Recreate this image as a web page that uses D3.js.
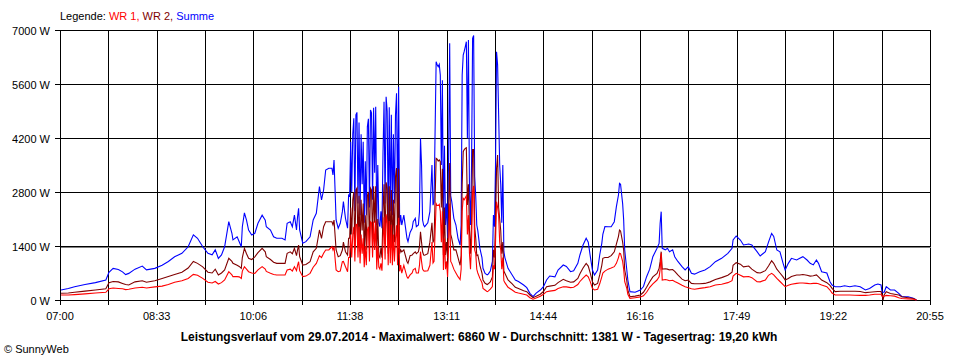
<!DOCTYPE html>
<html><head><meta charset="utf-8">
<script src="https://cdn.jsdelivr.net/npm/d3@7"></script>
<style>
body{margin:0;background:#fff;}
svg{display:block;}
text{font-family:"Liberation Sans",Arial,sans-serif;font-size:11px;fill:#000;}
</style>
</head><body>
<svg id="c" width="960" height="360"></svg>
<script>
// minutes after 07:00
const minutes = [
1,8,14,24,34,44,47,51,56,60,
63,66,72,79,83,91,98,104,110,117,
123,128,132,137,142,146,149,152,155,158,
162,165,166,170,172,174,175,177,179,181,
184,187,190,194,197,198,202,205,208,213,
216,218,221,223,225,227,228,229,230,233,
236,240,243,246,249,251,253,255,258,261,
262,263,265,267,269,271,272,274,276,277,
278,279,280,281,282,283,284,285,286,287,
288,289,290,291,292,293,294,295,296,297,
298,299,300,301,302,303,304,305,306,307,
308,309,310,311,312,313,314,315,316,317,
318,319,320,321,322,323,324,325,326,327,
328,330,333,334,336,338,339,341,342,344,
345,346,347,348,349,350,353,355,357,358,
359,361,362,363,364,365,366,367,368,369,
370,371,372,373,374,375,376,378,380,382,
384,385,386,387,388,389,390,391,392,393,
394,395,396,397,398,399,400,401,403,405,
406,408,410,411,413,415,416,417,418,419,
420,421,422,423,424,425,426,427,430,434,
437,440,445,448,451,454,457,461,464,467,
470,475,478,483,486,490,493,497,499,502,
505,507,509,511,513,516,518,520,521,523,
526,529,532,534,536,537,538,540,541,542,
544,545,547,552,557,560,563,566,569,573,
575,576,577,578,581,583,585,588,590,593,
597,600,603,606,609,614,619,624,629,635,
641,645,646,649,653,656,661,664,669,672,
677,680,683,685,688,691,694,696,699,702,
707,710,713,717,720,723,726,728,731,736,
739,741,744,749,753,758,763,768,773,777,
782,785,788,789,790,791,793,797,801,805,
808,814,819,822
];
// Summe (W)
const summe = [
260,300,345,400,450,520,720,820,790,730,
660,690,800,880,780,820,900,1000,1120,1210,
1380,1690,1600,1380,1210,1170,1300,1080,1170,1380,
2030,1730,1560,1640,1510,1380,1900,2260,2070,1815,
1685,1730,1990,2200,2070,1900,1815,1640,1600,1600,
1556,1990,2030,1900,2200,1815,2160,2377,1815,1470,
1512,1640,2074,2247,2938,2593,2852,3370,3414,3414,
3241,3630,2074,1858,1988,2290,2549,2117,1860,2722,
2700,4100,2800,4300,4710,2300,4800,4865,2500,4600,
2200,4300,3000,4100,2000,3600,2200,4500,4700,2400,
4926,4850,2600,4986,3300,5012,1944,3500,2000,1900,
2300,1858,3800,5142,2500,5271,4900,2100,5000,2300,
4800,2200,4300,2500,4800,5358,2400,5531,1944,2200,
1944,2200,1600,1512,1750,1858,2030,2117,1900,1944,
2290,4192,3500,2074,1944,1900,2000,2290,3500,2460,
2550,6178,6100,6050,6110,5833,3500,5700,1944,4000,
1944,2500,1599,3800,6654,2700,2549,2117,1944,1599,
1426,1944,5833,6351,6450,6568,6697,4192,6741,2850,
1944,3500,6784,6860,3200,2700,1944,1800,1340,1100,
821,691,650,670,750,1000,2204,1900,3500,6437,
6100,4800,3500,3000,2000,3500,1253,1100,821,648,
518,480,389,320,173,86,180,259,345,518,
622,600,778,907,870,734,760,950,1167,1426,
1599,1500,1123,778,648,778,1167,1469,1700,1901,
1900,1901,2030,2420,2722,3025,3000,2500,2074,1296,
778,518,216,200,259,350,605,800,1123,1340,
1469,1988,2290,1340,1300,1340,1250,1300,1123,1000,
864,778,864,691,670,734,778,864,993,1080,
1210,1340,1556,1659,1556,1426,1450,1426,1253,1141,
1253,1500,1728,1650,1296,1250,950,778,950,1080,
1037,1080,1123,1037,950,910,1037,950,734,700,
475,389,345,345,370,345,370,345,259,300,
389,415,390,200,200,200,345,259,259,173,
86,86,43,0
];
// WR 2 (W)
const wr2 = [
175,180,200,230,260,290,450,480,470,430,
400,390,470,500,460,500,560,610,660,720,
830,1000,950,860,720,700,800,650,700,780,
1080,1000,950,900,870,820,1100,1340,1200,1080,
1050,1120,1230,1340,1250,1123,1050,980,950,950,
950,1210,1250,1200,1340,1150,1300,1426,1123,907,
920,993,1250,1340,1815,1600,1901,2030,2030,2030,
1950,2074,1296,1123,1150,1296,1500,1253,1167,1600,
1600,2400,1700,2600,2800,1300,2850,2900,1400,2700,
1250,2600,1800,2500,1150,2200,1300,2700,2800,1400,
2900,2850,1500,2950,2000,2950,1150,2100,1150,1100,
1350,1100,2300,3000,1450,3050,2900,1200,2950,1350,
2850,1300,2600,1500,3200,3420,1500,3400,1200,1296,
1250,1300,1000,950,1150,1167,1200,1250,1200,1250,
1383,1771,1500,1250,1167,1160,1200,1500,2000,1500,
1550,3673,3650,3600,3630,3586,2400,3400,1167,2400,
1167,1500,1080,2400,3550,1700,1600,1300,1300,1100,
900,1150,3000,3845,3900,3932,3950,2463,3000,1800,
1200,2000,3900,3900,1900,1600,1150,1167,900,700,
520,432,400,420,470,600,1300,1100,2000,3414,
3759,2400,2100,1800,1200,1500,750,691,520,420,
330,300,240,216,130,60,100,150,220,345,
360,380,450,536,500,460,470,560,680,830,
950,880,691,470,389,430,650,900,1080,1100,
1100,1150,1250,1450,1650,1815,1790,1500,1296,778,
500,259,86,100,130,200,330,475,600,691,
820,1000,1253,800,810,800,780,790,740,650,
540,500,518,430,420,420,430,470,530,580,
640,720,900,968,930,860,880,800,709,700,
760,880,1020,950,800,700,600,518,560,610,
648,650,660,640,620,630,650,600,518,450,
380,302,216,225,225,225,225,220,190,200,
215,220,220,130,0,130,215,170,150,130,
86,60,40,0
];
// WR 1 (W)
const wr1 = [
130,130,140,160,180,200,290,310,300,290,
270,280,310,330,310,340,360,400,460,500,
560,665,640,560,460,440,480,415,450,518,
734,650,605,605,600,560,750,864,800,734,
700,690,780,864,800,740,691,660,648,648,
648,778,800,750,864,760,900,993,760,605,
620,691,850,950,1150,1100,1210,1296,1300,1383,
1300,1383,780,734,750,993,1000,864,734,1100,
1100,1700,1100,1700,1900,1000,1950,1965,1100,1900,
950,1700,1200,1600,850,1400,900,1800,1900,1000,
2026,2000,1100,2036,1300,2062,794,1400,850,800,
950,758,1500,2142,1050,2221,2000,900,2050,950,
1950,900,1700,1000,1600,1938,900,2131,744,904,
694,900,600,562,650,700,780,820,700,700,
900,1253,1000,800,760,750,760,900,1500,960,
1000,2500,2450,2450,2480,2300,1500,2300,777,1600,
800,1000,600,1400,2500,1000,950,800,700,605,
530,800,2300,2636,2600,2650,2700,1700,2200,1200,
800,1500,2800,2960,1300,1200,800,700,560,450,
300,260,216,230,280,350,900,800,1500,2549,
2400,2200,1500,1300,800,1100,500,450,330,260,
200,180,150,130,60,20,50,100,150,216,
230,250,300,345,340,320,330,400,480,570,
648,600,470,300,259,280,420,600,700,750,
800,830,864,950,1100,1210,1200,1000,800,475,
300,150,43,60,80,110,200,330,420,518,
600,800,1210,518,530,520,500,510,480,440,
380,345,320,290,280,302,320,345,389,410,
450,500,620,691,640,600,610,580,475,470,
520,640,691,650,560,480,400,345,380,410,
432,440,440,430,420,430,432,420,389,345,
259,180,130,130,130,130,125,120,120,130,
150,150,150,100,100,100,120,110,100,60,
40,30,20,0
];
const yTicks = [0,1400,2800,4200,5600,7000];
const xTickLabels = ["07:00","08:33","10:06","11:38","13:11","14:44","16:16","17:49","19:22","20:55"];
const totalMinutes = 835;   // 07:00 .. 20:55
const average = 1381;
const legendItems = [["WR 1, ","#ff0000"],["WR 2, ","#800000"],["Summe","#0000ff"]];
const titleText = "Leistungsverlauf vom 29.07.2014 - Maximalwert: 6860 W - Durchschnitt: 1381 W - Tagesertrag: 19,20 kWh";

const svg = d3.select("#c");
const x = d3.scaleLinear().domain([0,totalMinutes]).range([60,930]);
const y = d3.scaleLinear().domain([0,7000]).range([300,30]);
const px = v => Math.round(v)+0.5;

const grid = svg.append("g").attr("shape-rendering","crispEdges").attr("stroke","#000").attr("stroke-width",1);
d3.range(19).forEach(i=>{
  const xx = px(x(i*totalMinutes/18));
  grid.append("line").attr("x1",xx).attr("x2",xx).attr("y1",px(y(7000))).attr("y2",305);
});
yTicks.forEach(v=>{
  const yy = px(y(v));
  grid.append("line").attr("x1",55).attr("x2",px(x(totalMinutes))).attr("y1",yy).attr("y2",yy);
});
// average line
const ya = px(y(average)) + (px(y(average))===px(y(1400))?1:0);
svg.append("line").attr("shape-rendering","crispEdges")
  .attr("x1",px(x(0))).attr("x2",px(x(totalMinutes)))
  .attr("y1",ya).attr("y2",ya)
  .attr("stroke","#808080").attr("stroke-width",1);

yTicks.forEach(v=>{
  svg.append("text").attr("x",50).attr("y",px(y(v))+4).attr("text-anchor","end").text(v+" W");
});
xTickLabels.forEach((t,i)=>{
  svg.append("text").attr("x",x(i*totalMinutes/9)).attr("y",320).attr("text-anchor","middle").text(t);
});

const line = d3.line().x((d,i)=>x(minutes[i])).y(d=>y(d));
[[summe,"#0000ff"],[wr2,"#800000"],[wr1,"#ff0000"]].forEach(([s,c])=>{
  svg.append("path").datum(s).attr("d",line).attr("fill","none").attr("stroke",c).attr("stroke-width",1.1);
});

const lg = svg.append("text").attr("x",60).attr("y",20);
lg.append("tspan").text("Legende: ");
legendItems.forEach(([t,c])=>lg.append("tspan").attr("fill",c).style("fill",c).text(t));

svg.append("text").attr("x",479).attr("y",341).attr("text-anchor","middle")
  .style("font-weight","bold").style("font-size","12px").text(titleText);
svg.append("text").attr("x",4).attr("y",353).text("© SunnyWeb");
</script>
</body></html>
